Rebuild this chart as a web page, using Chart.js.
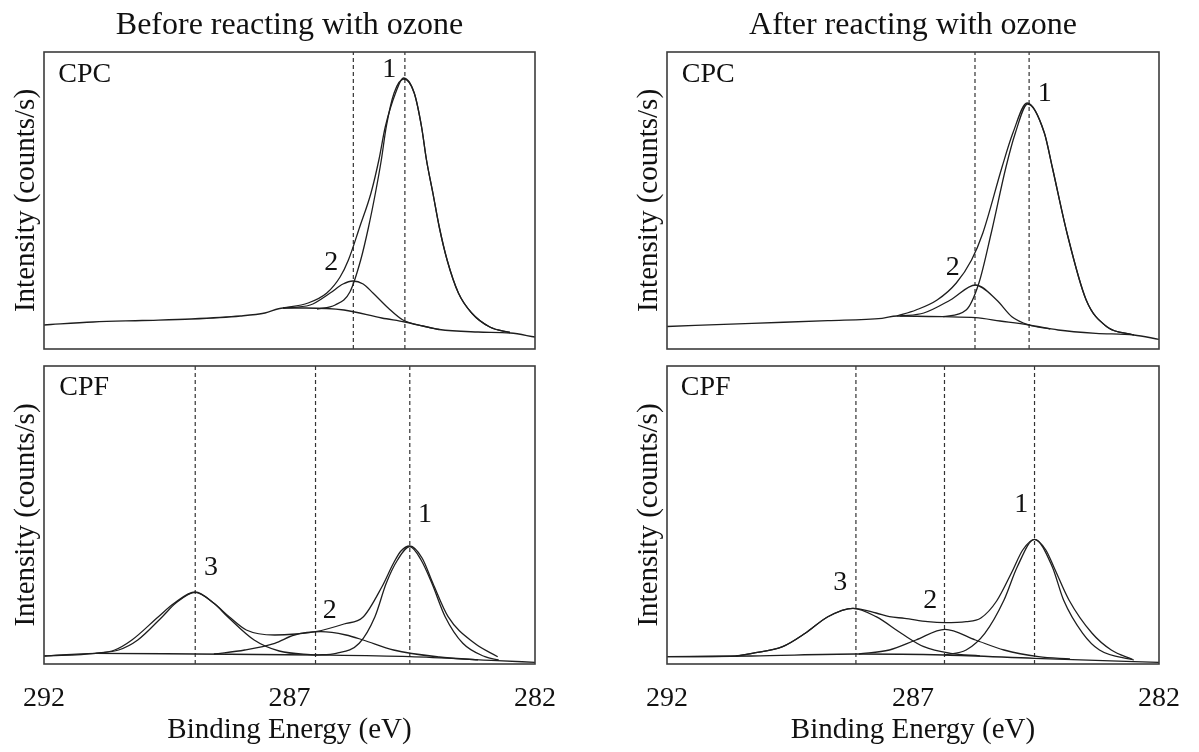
<!DOCTYPE html>
<html>
<head>
<meta charset="utf-8">
<script src="https://cdn.jsdelivr.net/npm/chart.js@4.4.1/dist/chart.umd.min.js"></script>
<style>
  html, body { margin: 0; padding: 0; background: #fff; }
  body { width: 1199px; height: 752px; position: relative; overflow: hidden; }
  .panel { position: absolute; }
</style>
</head>
<body>
<div class="panel" style="left:0;top:0"><canvas id="tl" width="560" height="355"></canvas></div>
<div class="panel" style="left:623px;top:0"><canvas id="tr" width="561" height="355"></canvas></div>
<div class="panel" style="left:0;top:355px"><canvas id="bl" width="575" height="397"></canvas></div>
<div class="panel" style="left:623px;top:355px"><canvas id="br" width="576" height="397"></canvas></div>
<script>
// binding energy axis (eV), reversed
const energyTicks = [292, 287, 282];

// ---- before ozone, CPC  [binding energy, intensity a.u.]
const tlBackground = [[292.0,24],[291.0,27],[290.0,28.5],[289.0,30],[288.0,33],[287.5,36],[287.13,41],[286.67,41],[285.89,39],[285.12,31],[284.65,27],[283.95,19.5],[283.16,17],[282.5,16],[282.0,12]];
const tlPeak1 = [[286.44,40],[286.07,44],[285.77,57],[285.55,89],[285.39,122],[285.25,156],[285.13,189],[285.03,222],[284.87,256],[284.67,270],[284.46,256],[284.31,222],[284.21,189],[284.08,156],[283.95,122],[283.79,89],[283.56,56],[283.29,36],[282.92,22],[282.51,16.5]];
const tlPeak2 = [[287.13,41],[286.58,44],[286.18,55.7],[285.91,65],[285.71,68],[285.50,65],[285.30,56],[284.99,41],[284.69,29],[284.28,23],[283.95,19.5]];
const tlEnvelope = [[287.13,41],[286.62,46],[286.24,56],[285.97,72],[285.80,89],[285.57,122],[285.34,156],[285.18,189],[285.05,222],[284.84,256],[284.68,271],[284.46,256],[284.31,222],[284.21,189],[284.08,156],[283.95,122],[283.79,89],[283.56,56],[283.29,36],[282.92,22],[282.51,16.5]];
const tlMarkers = [285.7, 284.65];

// ---- after ozone, CPC
const trBackground = [[292.0,22.5],[290.27,25.7],[288.73,28.3],[287.63,30.7],[287.33,33],[286.39,32.3],[285.73,31.3],[285.23,28],[284.64,24],[284.05,19],[283.28,15.7],[282.51,14],[282.0,9.7]];
const trPeak1 = [[286.39,32.3],[285.92,39],[285.66,66],[285.41,116],[285.11,182],[284.92,216],[284.67,245],[284.33,216],[284.17,182],[283.87,116],[283.48,49],[283.06,22.3],[282.51,14]];
const trPeak2 = [[287.26,33],[286.78,36],[286.24,49],[285.73,64],[285.30,49],[284.99,32.3],[284.64,24],[284.21,20]];
const trEnvelope = [[287.33,33],[286.94,39],[286.51,49],[286.12,66],[285.81,89],[285.58,116],[285.19,182],[284.97,216],[284.68,246],[284.33,216],[284.17,182],[283.87,116],[283.48,49],[283.06,22.3],[282.51,14]];
const trMarkers = [285.74, 284.64];

// ---- before ozone, CPF
const blBackground = [[292.0,8],[290.95,10.7],[288.92,10],[286.47,9],[284.55,7.3],[282.77,3.3],[282.0,1.7]];
const blPeak1 = [[286.47,9],[286.05,10.7],[285.58,20.7],[285.26,47.3],[285.03,80.7],[284.80,104],[284.55,117.3],[284.32,104],[284.10,80.7],[283.83,47.3],[283.47,20.7],[283.02,7.3],[282.74,4]];
const blPeak2 = [[288.54,10],[287.91,14],[287.30,20.7],[286.90,29],[286.36,32.3],[285.85,29],[285.50,24],[284.88,14],[283.95,7],[283.16,4.2]];
const blPeak3 = [[290.95,10.7],[290.48,14],[290.09,24],[289.59,47.3],[289.32,60.7],[288.92,71.7],[288.54,60.7],[288.26,47.3],[287.72,24],[287.21,13],[286.47,9]];
const blEnvelope = [[292.0,8],[290.95,10.7],[290.56,14],[290.21,24],[289.67,47.3],[289.35,60.7],[288.92,72],[288.54,60.7],[288.23,47.3],[287.88,34],[287.30,29],[286.87,30],[286.47,32.3],[285.89,40],[285.50,47],[285.12,77],[284.88,101],[284.73,113],[284.55,118],[284.30,106],[284.08,80.7],[283.77,47.3],[283.23,20.7],[282.76,7.3]];
const blMarkers = [288.92, 286.47, 284.55];

// ---- after ozone, CPF
const brBackground = [[292.0,7.3],[290.27,8],[288.16,10],[286.36,9],[284.53,5.7],[282.51,2.3],[282.0,1.7]];
const brPeak1 = [[286.36,9],[285.92,14],[285.54,30.7],[285.15,64],[284.88,97.3],[284.53,124.7],[284.17,97.3],[283.94,64],[283.55,30.7],[283.21,14],[282.51,4]];
const brPeak2 = [[288.10,10],[287.48,14],[286.94,24],[286.35,34.7],[285.73,24],[285.15,14],[284.45,7.3],[283.81,5]];
const brPeak3 = [[290.6,7.9],[290.27,10.7],[289.65,17.3],[289.19,30.7],[288.73,47.3],[288.22,55.7],[287.75,47.3],[287.24,30.7],[286.78,17.3],[286.24,10.7],[285.64,8.2]];
const brEnvelope = [[292.0,7.3],[290.6,8],[290.27,10.7],[289.65,17.3],[289.19,30.7],[288.73,47.3],[288.22,55.7],[287.75,51],[287.48,47.3],[287.17,45.7],[286.70,42.3],[286.36,41.3],[285.92,42.3],[285.62,46],[285.30,63],[284.99,92],[284.77,114],[284.53,124.7],[284.30,114],[284.14,97.3],[283.83,64],[283.36,30.7],[282.97,14],[282.54,4.7]];
const brMarkers = [288.16, 286.36, 284.53];

// peak numbers and sample names, placed in data coordinates
const tlLabels = [{text:'CPC', e:291.71, v:267, left:true}, {text:'1', e:284.97, v:279}, {text:'2', e:286.15, v:86}];
const trLabels = [{text:'CPC', e:291.70, v:267, left:true}, {text:'1', e:284.32, v:255}, {text:'2', e:286.19, v:81}];
const blLabels = [{text:'CPF', e:291.69, v:269, left:true}, {text:'3', e:288.60, v:96}, {text:'2', e:286.18, v:53}, {text:'1', e:284.24, v:149}];
const brLabels = [{text:'CPF', e:291.72, v:269, left:true}, {text:'3', e:288.48, v:81}, {text:'2', e:286.65, v:63}, {text:'1', e:284.80, v:159}];

const FONT = "'Liberation Serif', 'Times New Roman', serif";
Chart.defaults.font.family = FONT;
Chart.defaults.color = '#111';

const pts = arr => arr.map(([x, y]) => ({x, y}));

function curve(arr) {
  return {data: pts(arr), borderColor: '#1e1e1e', borderWidth: 1.3, pointRadius: 0,
          cubicInterpolationMode: 'monotone', fill: false};
}

function marker(e, top) {
  return {data: [{x: e, y: 0}, {x: e, y: top}], borderColor: '#333', borderWidth: 1.2,
          borderDash: [4, 3], pointRadius: 0, tension: 0, fill: false};
}

const framePlugin = {
  id: 'frame',
  afterDraw(chart) {
    const {ctx, chartArea: a} = chart;
    ctx.save();
    ctx.strokeStyle = '#3c3c3c';
    ctx.lineWidth = 1.6;
    ctx.strokeRect(a.left, a.top, a.right - a.left, a.bottom - a.top);
    ctx.restore();
  }
};

function labelPlugin(items) {
  return {
    id: 'panelText',
    afterDatasetsDraw(chart) {
      const {ctx, scales: {x, y}} = chart;
      ctx.save();
      ctx.fillStyle = '#111';
      ctx.font = '28px ' + FONT;
      items.forEach(it => {
        ctx.textAlign = it.left ? 'left' : 'center';
        ctx.textBaseline = it.left ? 'alphabetic' : 'middle';
        ctx.fillText(it.text, x.getPixelForValue(it.e), y.getPixelForValue(it.v));
      });
      ctx.restore();
    }
  };
}

function panel(id, o) {
  const datasets = o.curves.map(curve).concat(o.markers.map(e => marker(e, o.top)));
  const scales = {
    x: {
      type: 'linear', min: 282, max: 292, reverse: true, display: o.bottom,
      afterBuildTicks: s => { s.ticks = energyTicks.map(v => ({value: v})); },
      ticks: {font: {size: 28}, padding: 18, maxRotation: 0, autoSkip: false},
      grid: {display: false, drawTicks: false},
      border: {display: false},
      title: {display: true, text: 'Binding Energy (eV)', font: {size: 29}, padding: {top: 0, bottom: 4}},
      afterFit: s => { s.height = o.bottom ? 88 : 0; }
    },
    y: {
      min: 0, max: o.top,
      ticks: {display: false},
      grid: {display: false, drawTicks: false},
      border: {display: false},
      title: {display: true, text: 'Intensity (counts/s)', font: {size: 29}, padding: {top: 9, bottom: 0}},
      afterFit: s => { s.width = 44; }
    }
  };
  if (o.title) {
    scales.x2 = {
      type: 'linear', position: 'top', min: 282, max: 292, reverse: true,
      ticks: {display: false},
      grid: {display: false, drawTicks: false},
      border: {display: false},
      title: {display: true, text: o.title, font: {size: 32}, padding: {top: 6, bottom: 0}},
      afterFit: s => { s.height = 52; }
    };
  }
  new Chart(document.getElementById(id), {
    type: 'line',
    data: {datasets},
    options: {
      responsive: false,
      animation: false,
      events: [],
      layout: {padding: o.padding},
      scales,
      plugins: {legend: {display: false}, tooltip: {enabled: false}}
    },
    plugins: [framePlugin, labelPlugin(o.labels)]
  });
}

panel('tl', {title: 'Before reacting with ozone', bottom: false, top: 297,
  padding: {top: 0, right: 25, bottom: 6, left: 0},
  curves: [tlBackground, tlPeak1, tlPeak2, tlEnvelope], markers: tlMarkers, labels: tlLabels});
panel('tr', {title: 'After reacting with ozone', bottom: false, top: 297,
  padding: {top: 0, right: 25, bottom: 6, left: 0},
  curves: [trBackground, trPeak1, trPeak2, trEnvelope], markers: trMarkers, labels: trLabels});
panel('bl', {bottom: true, top: 298,
  padding: {top: 11, right: 40, bottom: 0, left: 0},
  curves: [blBackground, blPeak1, blPeak2, blPeak3, blEnvelope], markers: blMarkers, labels: blLabels});
panel('br', {bottom: true, top: 298,
  padding: {top: 11, right: 40, bottom: 0, left: 0},
  curves: [brBackground, brPeak1, brPeak2, brPeak3, brEnvelope], markers: brMarkers, labels: brLabels});
</script>
</body>
</html>
